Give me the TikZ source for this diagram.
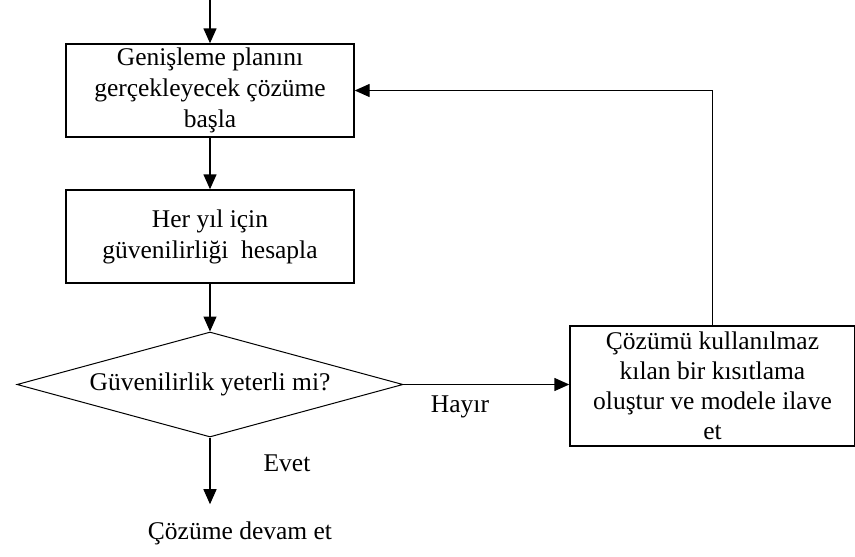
\documentclass[tikz,border=0pt]{standalone}
\usepackage{fontspec}
\setmainfont{Liberation Serif}
\usetikzlibrary{shapes.geometric, arrows.meta, positioning}

\begin{document}
\begin{tikzpicture}[
    x=1pt, y=-1pt,
    font=\fontsize{25.5}{31}\selectfont,
    block/.style={rectangle, draw, line width=1.4pt, minimum width=288pt, minimum height=93pt, align=center, inner sep=0pt},
    decision/.style={diamond, draw, line width=1pt, aspect=3.7, minimum width=386pt, minimum height=105pt, inner sep=0pt},
    tag/.style={inner sep=0pt},
    arrow/.style={-{Triangle[length=15pt, width=13pt]}, line width=1.4pt}
]
\useasboundingbox (0,0) rectangle (855,557);

\coordinate (entry) at (210,0);
\node[block] (start) at (210,90.5) {Genişleme planını\\gerçekleyecek çözüme\\başla};
\node[block] (calc) at (210,236.5) {Her yıl için\\güvenilirliği~~hesapla};
\node[decision] (check) at (210,384.5) {Güvenilirlik yeterli mi?};
\node[block, minimum width=285pt, minimum height=120pt, font=\fontsize{25.5}{30}\selectfont] (cut) at (712.5,386) {Çözümü kullanılmaz\\kılan bir kısıtlama\\oluştur ve modele ilave\\et};
\node[tag] (done) at (240,533) {Çözüme devam et};
\node[tag] (yes) at (287,463) {Evet};
\node[tag] (no) at (460,407) {Hayır};

\draw[arrow] (entry) -- (start);
\draw[arrow] (start) -- (calc);
\draw[arrow] (calc) -- (check);
\draw[arrow] (check) -- (check -| cut.west);
\draw[arrow] (cut.north) |- (start.east);
\draw[arrow, shorten >=17pt] (check.south) -- (check.south |- done.north);
\end{tikzpicture}
\end{document}
